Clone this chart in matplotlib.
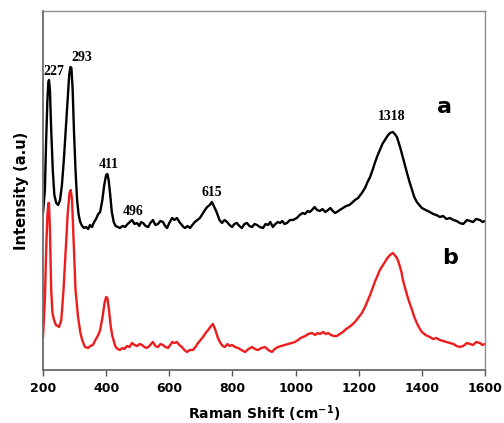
import matplotlib
matplotlib.use('Agg')
import matplotlib.pyplot as plt

# Raman spectra, trace a (black) and trace b (red), intensities in arbitrary units
shift_a = [200, 206, 210, 214, 217, 219, 222, 226, 231, 236, 242, 248, 254, 260, 266, 272,
           278, 283, 287, 290, 294, 298, 303, 308, 313, 318, 324, 330, 337, 343, 349, 355,
           362, 368, 375, 381, 388, 394, 400, 404, 408, 413, 418, 424, 430, 437,
           444, 452, 460, 468, 475, 482, 490, 498, 505, 511, 517, 525, 533, 540, 548, 556,
           564, 572, 580, 587, 593, 600, 609, 616, 624, 632, 640, 645, 650, 658, 666, 673,
           681, 689, 697, 705, 713, 720, 728, 735, 741, 747, 751, 759, 767, 775, 783, 791,
           799, 806, 814, 822, 830, 838, 846, 854, 862, 870, 878, 887, 897, 905, 913, 920,
           928, 936, 944, 951, 958, 965, 973, 982, 992, 1004, 1013, 1023, 1030, 1038, 1045,
           1052, 1060, 1068, 1077, 1085, 1094, 1103, 1110, 1118, 1125, 1131, 1140, 1150,
           1160, 1170, 1178, 1188, 1198, 1210, 1220, 1228, 1236, 1244, 1251, 1259, 1267,
           1275, 1283, 1291, 1299, 1308, 1314, 1321, 1326, 1331, 1336, 1340, 1346, 1353,
           1361, 1369, 1376, 1384, 1392, 1400, 1412, 1425, 1436, 1446, 1457, 1467, 1478,
           1489, 1500, 1510, 1520, 1531, 1543, 1552, 1562, 1572, 1584, 1592, 1600]
inten_a = [157, 180, 230, 270, 288, 290, 280, 240, 200, 175, 167, 165, 170, 185, 210, 240,
           270, 295, 303, 302, 280, 240, 200, 170, 155, 148, 144, 142, 143, 141, 145, 143,
           148, 151, 156, 158, 170, 185, 195, 196, 190, 175, 158, 148, 144, 143,
           142, 144, 143, 146, 148, 150, 146, 147, 144, 148, 147, 144, 143, 147, 150, 145,
           146, 149, 148, 144, 142, 147, 152, 150, 152, 148, 145, 143, 142, 144, 142, 145,
           148, 150, 152, 156, 160, 163, 165, 168, 164, 160, 157, 150, 147, 150, 148, 145,
           143, 146, 147, 144, 142, 146, 147, 144, 143, 146, 145, 143, 142, 146, 145, 148,
           143, 146, 148, 147, 149, 146, 147, 150, 150, 152, 155, 157, 156, 159, 158,
           160, 163, 160, 159, 161, 158, 160, 162, 159, 157, 158, 160, 162,
           164, 165, 167, 170, 172, 177, 182, 188, 193, 200, 207, 214, 220,
           226, 230, 234, 237, 238, 236, 233, 228, 223, 217, 212, 205, 197,
           188, 180, 173, 168, 165, 162, 160, 158, 156, 155, 153, 154, 151,
           152, 150, 149, 147, 146, 150, 149, 148, 151, 150, 148, 149]

shift_b = [200, 206, 210, 214, 217, 219, 222, 226, 230, 235, 241, 251, 258, 265, 272, 278,
           284, 288, 292, 297, 303, 311, 318, 324, 333, 343, 350, 358, 366, 375, 381, 388,
           395, 400, 404, 409, 414, 419, 425, 430, 437,
           444, 452, 458, 466, 474, 482, 490, 498, 506, 514, 521, 529, 537, 548, 556, 564,
           572, 580, 588, 596, 603, 609, 616, 624, 632, 640, 648, 656, 665, 675, 683, 691,
           699, 707, 715, 723, 730, 738, 746, 754, 762, 769, 776, 784, 791, 799, 808, 818,
           828, 840, 851, 862, 871, 881, 892, 903, 914, 925, 934, 944, 955, 966, 978, 989,
           998, 1008, 1016, 1023, 1031, 1040, 1052, 1062, 1070, 1077, 1088, 1095, 1103,
           1112, 1122, 1131, 1140, 1150, 1160, 1170, 1178, 1188, 1198, 1210, 1220, 1228,
           1236, 1244, 1251, 1259, 1267, 1275, 1283, 1291, 1299, 1308, 1314, 1321, 1326,
           1331, 1336, 1340, 1346, 1353, 1361, 1369, 1376, 1384, 1392, 1400, 1412, 1425,
           1436, 1446, 1457, 1467, 1478, 1489, 1500, 1510, 1520, 1531, 1543, 1552, 1562,
           1572, 1584, 1592, 1600]
inten_b = [33, 70, 120, 155, 167, 167, 140, 80, 57, 50, 45, 43, 50, 80, 120, 155,
           177, 180, 170, 130, 80, 53, 38, 30, 23, 22, 24, 25, 30, 35, 40, 52,
           67, 73, 72, 60, 45, 35, 28, 23, 21,
           20, 22, 21, 24, 23, 27, 25, 24, 26, 25, 23, 22, 24, 28, 24, 23,
           26, 25, 23, 22, 25, 28, 27, 28, 25, 23, 20, 18, 20, 20, 23, 27,
           30, 33, 37, 40, 43, 46, 40, 32, 27, 24, 23, 26, 24, 25, 23, 22,
           20, 18, 21, 23, 21, 20, 22, 23, 20, 18, 21, 23, 24, 25, 26, 27,
           28, 30, 32, 33, 34, 36, 37, 35, 37, 36, 38, 36, 37,
           35, 34, 34, 36, 38, 41, 43, 45, 48, 52, 57, 63, 69,
           75, 82, 88, 94, 100, 104, 108, 112, 115, 117, 115, 112, 108,
           103, 97, 90, 83, 75, 67, 60, 53, 47, 42, 38, 35, 33,
           31, 32, 30, 29, 28, 27, 26, 24, 23, 24, 27, 26, 25,
           28, 27, 25, 26]

peak_labels = ['227', '293', '411', '496', '615', '1318']
peak_x = [235, 323, 409, 485, 735, 1305]
peak_y = [298, 312, 205, 158, 177, 253]

fig = plt.figure(figsize=(5.04, 4.23), dpi=100)
ax = fig.add_axes([0.0853, 0.1253, 0.877, 0.8487])

ax.plot(shift_a, inten_a, color='black', lw=1.7)
ax.plot(shift_b, inten_b, color='#ee1c1c', lw=1.7)

for lab, x, y in zip(peak_labels, peak_x, peak_y):
    ax.text(x, y, lab, ha='center', va='center', fontsize=10,
            fontweight='bold', family='Liberation Serif')

ax.text(1473, 263, 'a', ha='center', va='center', fontsize=16, fontweight='bold')
ax.text(1489, 112, 'b', ha='center', va='center', fontsize=16, fontweight='bold')

ax.set_xlim(200, 1600)
ax.set_ylim(0, 359)
ax.set_xticks(range(200, 1601, 200))
ax.set_yticks([])
ax.tick_params(axis='x', direction='out', length=4, width=1, color='#555555', pad=5)
for lbl in ax.get_xticklabels():
    lbl.set_fontweight('bold')
    lbl.set_fontsize(9)

for side in ['top', 'right']:
    ax.spines[side].set_color('#8c8c8c')
    ax.spines[side].set_linewidth(1.0)
for side in ['left', 'bottom']:
    ax.spines[side].set_color('#6a6a6a')
    ax.spines[side].set_linewidth(1.3)

ax.set_xlabel(r'Raman Shift (cm$^{\mathbf{-1}}$)', fontsize=10, fontweight='bold', labelpad=6)
ax.set_ylabel('Intensity (a.u)', fontsize=10.5, fontweight='bold', labelpad=10)

fig.savefig('out.png', dpi=100)
